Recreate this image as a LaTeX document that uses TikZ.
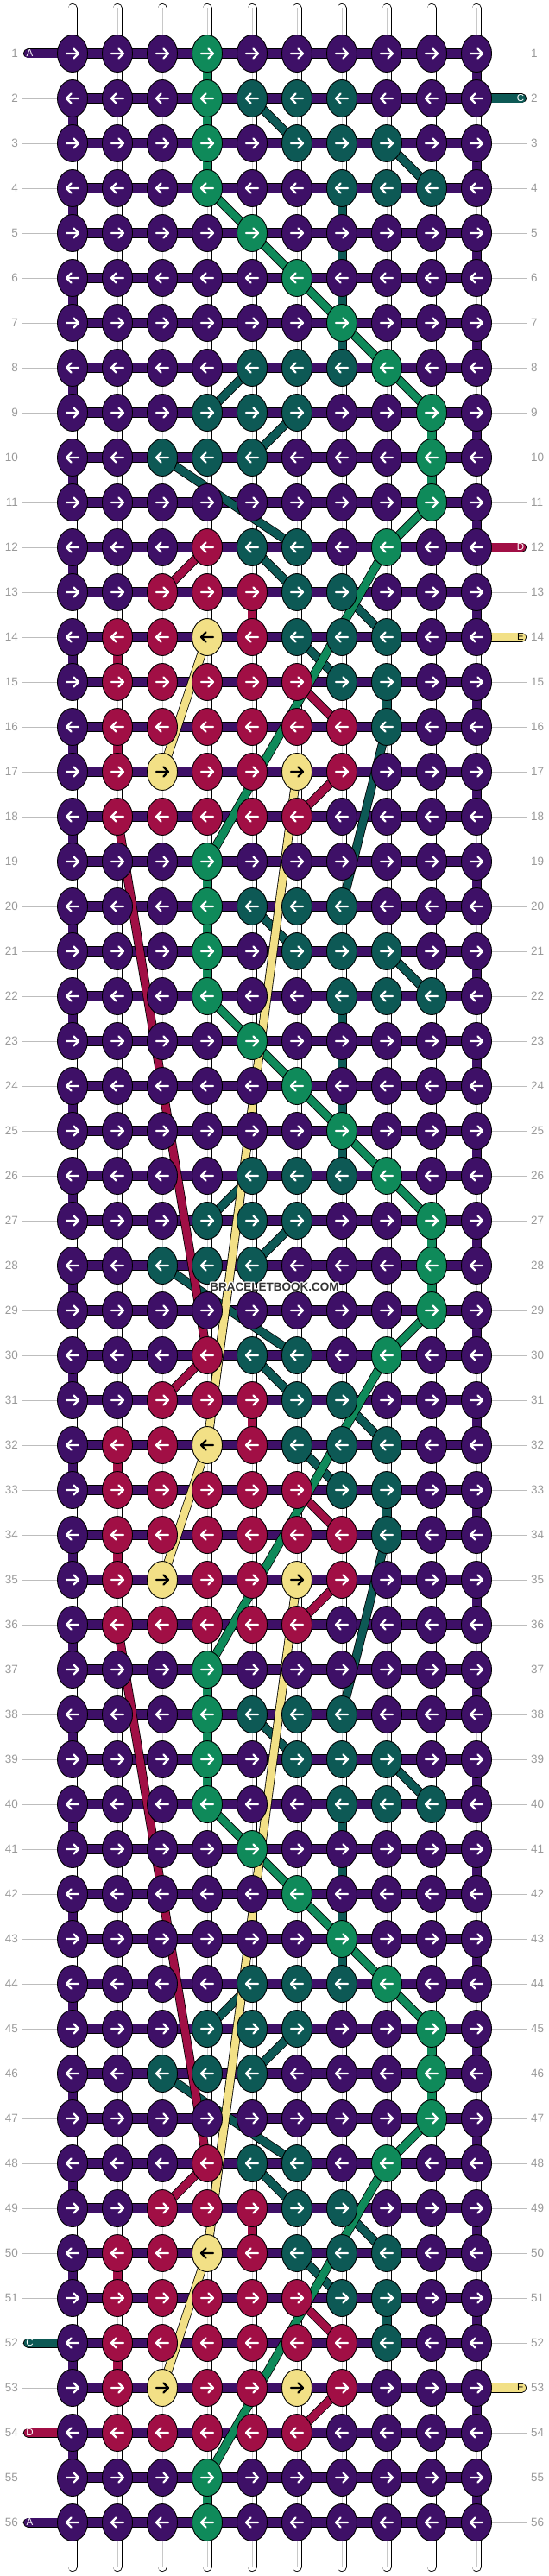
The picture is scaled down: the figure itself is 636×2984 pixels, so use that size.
\documentclass[tikz,border=0pt]{standalone}
\usepackage{fontspec}
\setmainfont{Liberation Sans}
\usetikzlibrary{shapes.geometric}
\definecolor{kP}{HTML}{3E1067}
\definecolor{kG}{HTML}{0F8A5A}
\definecolor{kT}{HTML}{0D5955}
\definecolor{kR}{HTML}{A10F45}
\definecolor{kY}{HTML}{F2E086}
\definecolor{numgray}{HTML}{9A9A9A}
\definecolor{linegray}{HTML}{BDBDBD}
\definecolor{midgray}{HTML}{C8C8C8}
\definecolor{wmgray}{HTML}{333333}
\tikzset{
  knot/.style={ellipse, draw=black, line width=0.9pt, minimum width=35pt, minimum height=43pt, inner sep=0pt},
  whitestring/.style={draw=black, line width=0.8pt, double=white, double distance=9.4pt, line cap=round},
  stringmid/.style={draw=midgray, line width=0.7pt},
  hbar/.style={draw=black, line width=0.9pt, double=kP, double distance=10pt},
  vseg/.style={draw=black, line width=0.8pt, double=#1, double distance=9.4pt},
  diag/.style={draw=black, line width=0.8pt, double=#1, double distance=8.8pt},
  marker/.style={draw=black, line width=0.8pt, double=#1, double distance=9.4pt, line cap=round},
  grayline/.style={draw=linegray, line width=0.8pt},
  arrowline/.style={line width=2.4pt, line cap=round, line join=round},
  numlabel/.style={text=numgray, font=\fontsize{13.5}{13.5}\selectfont, inner sep=0pt},
  mletter/.style={font=\fontsize{11.5}{11.5}\selectfont, inner sep=0pt},
}
\newcommand\knotrow[2]{%
  \foreach \kcol [count=\kc] in #2 {%
    \node[knot, fill=k\kcol] (n#1-\kc) at (k#1-\kc) {};
    \ifodd#1\relax\def\adir{1}\else\def\adir{-1}\fi
    \if Y\kcol\def\arrc{black}\else\def\arrc{white}\fi
    \begin{scope}[shift={(k#1-\kc)}, xscale=\adir]
      \draw[arrowline, draw=\arrc] (-7,0) -- (7,0) (1.5,-5.5) -- (7,0) -- (1.5,5.5);
    \end{scope}
  }}
\begin{document}
\begin{tikzpicture}[x=1pt,y=-1pt]
\useasboundingbox (0,0) rectangle (636,2984);
\fill[white] (0,0) rectangle (636,2984);
% grid coordinates
\foreach \rr in {1,...,56}{\foreach \kc in {1,...,10}{\coordinate (k\rr-\kc) at ({84+52*(\kc-1)},{62+52*(\rr-1)});}}
% white vertical strings
\foreach \kc in {1,...,10}{
  \coordinate (st\kc) at ({84+52*(\kc-1)},9.5);
  \coordinate (sb\kc) at ({84+52*(\kc-1)},2973.5);
  \draw[whitestring] (st\kc) -- (sb\kc);
  \draw[stringmid] (st\kc) -- (sb\kc);
}
% gray guide lines
\foreach \rr in {1,...,56}{
  \coordinate (gl\rr) at (26,{62+52*(\rr-1)});
  \coordinate (gr\rr) at (610,{62+52*(\rr-1)});
  \draw[grayline] (k\rr-1) -- (gl\rr);
  \draw[grayline] (k\rr-10) -- (gr\rr);
}
% horizontal working string
\foreach \rr in {1,...,56}{\draw[hbar] (k\rr-1) -- (k\rr-10);}
% side markers
\coordinate (mA1) at (32.5,62);
\coordinate (mC52) at (32.5,2714);
\coordinate (mD54) at (32.5,2818);
\coordinate (mA56) at (32.5,2922);
\coordinate (mC2) at (604.5,114);
\coordinate (mD12) at (604.5,634);
\coordinate (mE14) at (604.5,738);
\coordinate (mE53) at (604.5,2766);
\draw[marker=kP] (mA1) -- (k1-1);
\draw[marker=kT] (mC52) -- (k52-1);
\draw[marker=kR] (mD54) -- (k54-1);
\draw[marker=kP] (mA56) -- (k56-1);
\draw[marker=kT] (mC2) -- (k2-10);
\draw[marker=kR] (mD12) -- (k12-10);
\draw[marker=kY] (mE14) -- (k14-10);
\draw[marker=kY] (mE53) -- (k53-10);
% turns of the working string
\foreach \rr in {2,4,...,54}{\pgfmathtruncatemacro\rs{\rr+1}\draw[vseg=kP] (k\rr-1) -- (k\rs-1);}
\foreach \rr in {1,3,...,55}{\pgfmathtruncatemacro\rs{\rr+1}\draw[vseg=kP] (k\rr-10) -- (k\rs-10);}
% coloured vertical segments
\foreach \off in {0,18,36}{
  \foreach \rr/\kc/\col in {1/4/kG,2/4/kG,3/4/kG,4/7/kT,5/7/kT,6/7/kT,7/7/kT,9/9/kG,10/9/kG,13/5/kR,14/2/kR,16/2/kR,15/8/kT}{
    \pgfmathtruncatemacro\rA{\rr+\off}\pgfmathtruncatemacro\rB{\rr+\off+1}
    \draw[vseg=\col] (k\rA-\kc) -- (k\rB-\kc);
  }
}
\draw[vseg=kG] (k55-4) -- (k56-4);
% diagonal connectors
\foreach \off in {0,18,36}{
  \foreach \ra/\ca/\rb/\cb/\col in {2/5/3/6/kT,3/8/4/9/kT,8/5/9/4/kT,9/6/10/5/kT,10/3/12/6/kT,12/5/13/6/kT,13/7/14/8/kT,14/6/15/7/kT,
      4/4/5/5/kG,5/5/6/6/kG,6/6/7/7/kG,7/7/8/8/kG,8/8/9/9/kG,11/9/12/8/kG,
      12/4/13/3/kR,15/6/16/7/kR,17/7/18/6/kR,14/4/17/3/kY,12/8/19/4/kG}{
    \pgfmathtruncatemacro\rA{\ra+\off}\pgfmathtruncatemacro\rB{\rb+\off}
    \draw[diag=\col] (k\rA-\ca) -- (k\rB-\cb);
  }
}
\foreach \off in {0,18}{
  \foreach \ra/\ca/\rb/\cb/\col in {16/8/20/7/kT,18/2/30/4/kR,17/6/32/4/kY}{
    \pgfmathtruncatemacro\rA{\ra+\off}\pgfmathtruncatemacro\rB{\rb+\off}
    \draw[diag=\col] (k\rA-\ca) -- (k\rB-\cb);
  }
}
% knots
\foreach \off in {0,18,36}{
  \foreach \rr/\cols in {
    1/{P,P,P,G,P,P,P,P,P,P},
    2/{P,P,P,G,T,T,T,P,P,P},
    3/{P,P,P,G,P,T,T,T,P,P},
    4/{P,P,P,G,P,P,T,T,T,P},
    5/{P,P,P,P,G,P,P,P,P,P},
    6/{P,P,P,P,P,G,P,P,P,P},
    7/{P,P,P,P,P,P,G,P,P,P},
    8/{P,P,P,P,T,T,T,G,P,P},
    9/{P,P,P,T,T,T,P,P,G,P},
    10/{P,P,T,T,T,P,P,P,G,P},
    11/{P,P,P,P,P,P,P,P,G,P},
    12/{P,P,P,R,T,T,P,G,P,P},
    13/{P,P,R,R,R,T,T,P,P,P},
    14/{P,R,R,Y,R,T,T,T,P,P},
    15/{P,R,R,R,R,R,T,T,P,P},
    16/{P,R,R,R,R,R,R,T,P,P},
    17/{P,R,Y,R,R,Y,R,P,P,P},
    18/{P,R,R,R,R,R,P,P,P,P}}{
    \pgfmathtruncatemacro\RR{\rr+\off}
    \knotrow{\RR}{\cols}
  }
}
\def\rowlast{P,P,P,G,P,P,P,P,P,P}
\knotrow{55}{\rowlast}
\knotrow{56}{\rowlast}
% row numbers
\foreach \rr in {1,...,56}{
  \node[numlabel, anchor=east] (ln\rr) at (21,{62+52*(\rr-1)}) {\rr};
  \node[numlabel, anchor=west] (rn\rr) at (615,{62+52*(\rr-1)}) {\rr};
}
% marker letters
\node[mletter, text=white] (tA1) at (34.5,62) {A};
\node[mletter, text=white] (tC52) at (34.5,2714) {C};
\node[mletter, text=white] (tD54) at (34.5,2818) {D};
\node[mletter, text=white] (tA56) at (34.5,2922) {A};
\node[mletter, text=white] (tC2) at (603,114) {C};
\node[mletter, text=white] (tD12) at (603,634) {D};
\node[mletter, text=black] (tE14) at (603,738) {E};
\node[mletter, text=black] (tE53) at (603,2766) {E};
% watermark
\foreach \dx/\dy [count=\i] in {-1/0,1/0,0/-1,0/1,-1/-1,1/1,-1/1,1/-1}{
  \node[text=white, font=\bfseries\fontsize{13.5}{13.5}\selectfont, inner sep=0pt] (wmh\i) at ({318+\dx},{1491+\dy}) {BRACELETBOOK.COM};
}
\node[text=wmgray, font=\bfseries\fontsize{13.5}{13.5}\selectfont, inner sep=0pt] (wm) at (318,1491) {BRACELETBOOK.COM};
\end{tikzpicture}
\end{document}
